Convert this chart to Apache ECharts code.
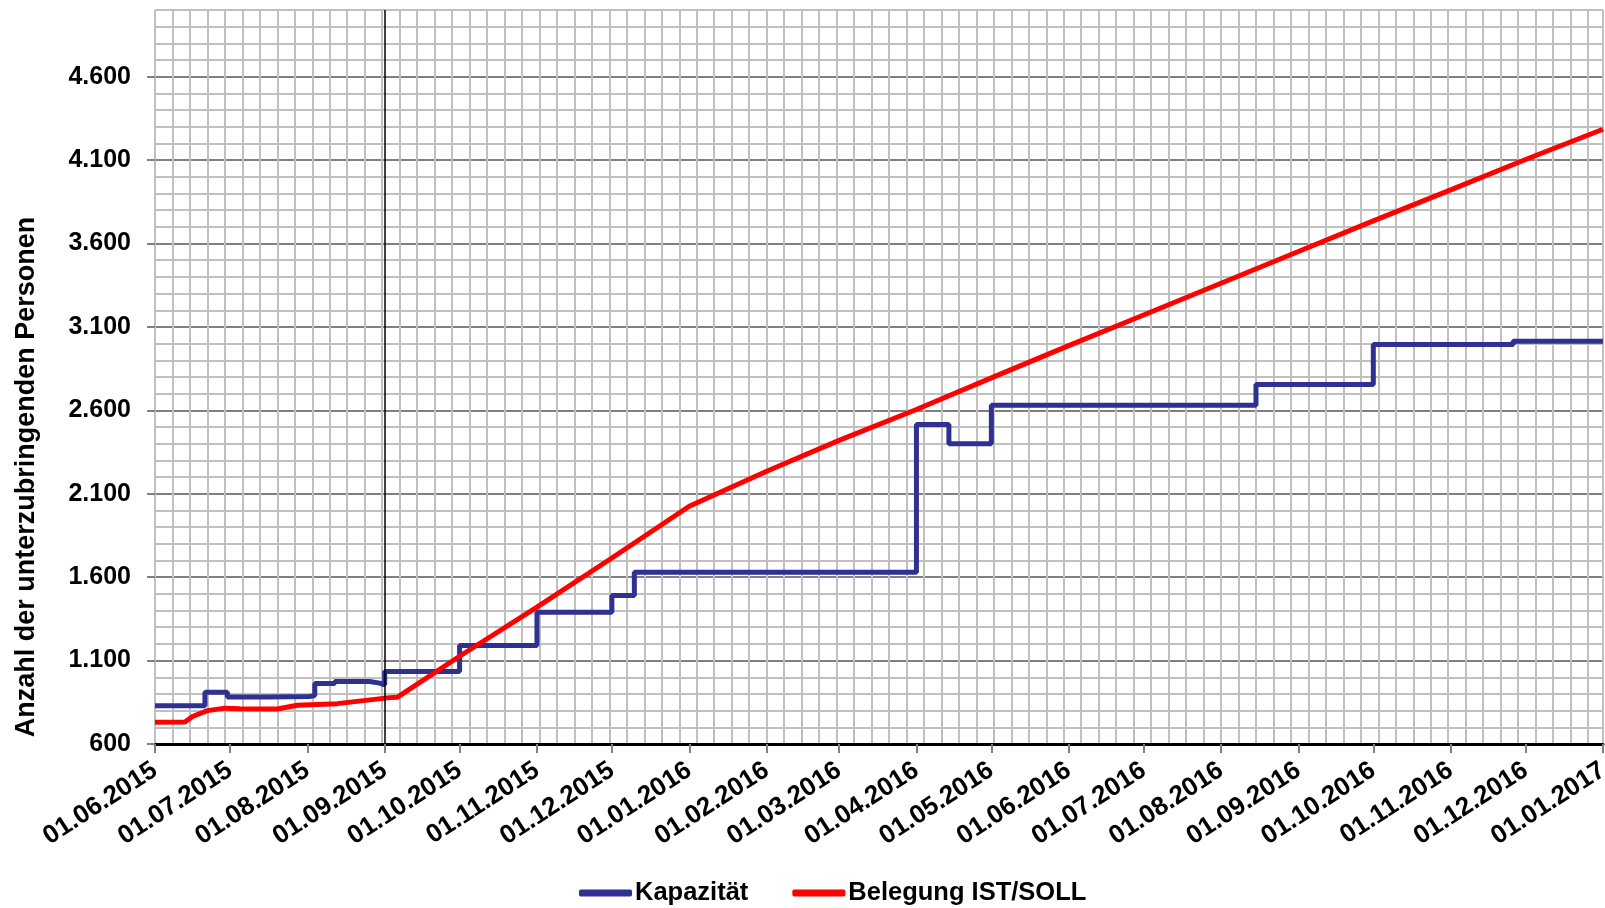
<!DOCTYPE html>
<html><head><meta charset="utf-8">
<script src="https://cdn.jsdelivr.net/npm/echarts@6/dist/echarts.min.js"></script>
<style>html,body{margin:0;padding:0;background:#fff}#c{width:1605px;height:908px}</style>
</head><body><div id="c"></div>
<script>
// ---- data ----
const monthLabels = ['01.06.2015','01.07.2015','01.08.2015','01.09.2015','01.10.2015','01.11.2015','01.12.2015',
  '01.01.2016','01.02.2016','01.03.2016','01.04.2016','01.05.2016','01.06.2016','01.07.2016','01.08.2016',
  '01.09.2016','01.10.2016','01.11.2016','01.12.2016','01.01.2017'];
const yTickValues = [600,1100,1600,2100,2600,3100,3600,4100,4600];

const kapDates = ['01.06.2015','21.06.2015','30.06.2015','16.07.2015','02.08.2015','04.08.2015','12.08.2015',
  '26.08.2015','30.08.2015','01.09.2015','01.10.2015','01.11.2015','01.12.2015','10.12.2015','01.04.2016',
  '14.04.2016','01.05.2016','15.08.2016','01.10.2016','26.11.2016','01.01.2017'];
const kapValues = [830,910,882,885,890,962,975,965,955,1035,1190,1390,1490,1630,2515,2400,2630,2755,2995,3015,3015];

const belDates = ['01.06.2015','13.06.2015','16.06.2015','22.06.2015','29.06.2015','05.07.2015','20.07.2015',
  '28.07.2015','13.08.2015','27.08.2015','03.09.2015','06.09.2015','01.10.2015','01.11.2015','01.12.2015',
  '01.01.2016','01.02.2016','01.03.2016','01.04.2016','01.05.2016','01.06.2016','01.07.2016','01.08.2016',
  '01.09.2016','01.10.2016','01.11.2016','01.12.2016','01.01.2017'];
const belValues = [730,732,765,800,815,812,810,832,842,866,878,880,1126,1420,1715,2025,2235,2420,2605,2795,
  2988,3172,3362,3552,3736,3922,4104,4285];

const startLabel = '01.06.2015';
const endLabel = '01.01.2017';
const markerLabel = '01.09.2015';

// ---- helpers ----
function parse(s){ const p = s.split('.').map(Number); return Date.UTC(p[2], p[1]-1, p[0]); }
const ORIGIN = parse(startLabel);
function toDay(s){ return Math.round((parse(s) - ORIGIN) / 864e5); }
const monthDays = monthLabels.map(toDay);
const labelByDay = {};
monthLabels.forEach((l,i)=>{ labelByDay[monthDays[i]] = l; });
function fmtNum(v){ return String(v).replace(/\B(?=(\d{3})+(?!\d))/g, '.'); }

const FONT = '"Liberation Sans", Arial, sans-serif';
const X_MAX = toDay(endLabel);
const chart = echarts.init(document.getElementById('c'), null, {renderer:'canvas'});
chart.setOption({
  animation: false,
  backgroundColor: '#fff',
  grid: { left: 155, right: 2, top: 10, bottom: 164, containLabel: false, outerBoundsMode: 'none' },
  legend: {
    left: 579, top: 880, padding: 0, itemGap: 44, itemWidth: 53, itemHeight: 7,
    icon: 'roundRect',
    textStyle: { fontFamily: FONT, fontSize: 25.5, fontWeight: 'bold', color: '#000', padding: [0,0,0,-2] },
    data: ['Kapazität', 'Belegung IST/SOLL']
  },
  xAxis: [{
    type: 'value', min: 0, max: X_MAX,
    axisLine: { show: true, onZero: false, lineStyle: { color: '#000', width: 3 } },
    axisTick: { show: true, customValues: monthDays, length: 9, lineStyle: { color: '#808080', width: 2 } },
    axisLabel: {
      show: true, customValues: monthDays, rotate: 33, margin: 24,
      fontFamily: FONT, fontSize: 26, fontWeight: 'bold', color: '#000',
      formatter: v => labelByDay[Math.round(v)] || ''
    },
    splitLine: { show: false }
  }, {
    type: 'value', min: 0, max: X_MAX, interval: 7, position: 'top',
    axisLine: { show: false }, axisTick: { show: false }, axisLabel: { show: false },
    splitLine: { show: true, lineStyle: { color: '#c0c0c0', width: 2 } }
  }],
  yAxis: [{
    type: 'value', min: 600, max: 5000,
    axisLine: { show: false },
    axisTick: { show: true, customValues: yTickValues, length: 8, lineStyle: { color: '#808080', width: 2 } },
    axisLabel: {
      show: true, customValues: yTickValues, margin: 24,
      fontFamily: FONT, fontSize: 25, fontWeight: 'bold', color: '#000',
      formatter: v => fmtNum(v)
    },
    splitLine: { show: false }
  }, {
    type: 'value', min: 600, max: 5000, interval: 100, position: 'right',
    axisLine: { show: false }, axisTick: { show: false }, axisLabel: { show: false },
    splitLine: { show: true, lineStyle: { color: ['#808080','#c0c0c0','#c0c0c0','#c0c0c0','#c0c0c0'], width: 2 } }
  }],
  graphic: [{
    type: 'text', x: 27, y: 477, rotation: Math.PI / 2, silent: true,
    style: { text: 'Anzahl der unterzubringenden Personen', font: 'bold 27px ' + FONT, fill: '#000',
      align: 'center', verticalAlign: 'middle' }
  }],
  series: [
    {
      name: 'Kapazität', type: 'line', step: 'end', symbol: 'none', showSymbol: false,
      xAxisIndex: 0, yAxisIndex: 0,
      color: '#2e3192',
      lineStyle: { color: '#2e3192', width: 5 },
      data: kapDates.map((d,i)=>[toDay(d), kapValues[i]]),
      markLine: {
        silent: true, symbol: ['none','none'], label: { show: false },
        lineStyle: { color: '#000', width: 1.5, type: 'solid' },
        emphasis: { disabled: true },
        data: [{ xAxis: toDay(markerLabel) }]
      }
    },
    {
      name: 'Belegung IST/SOLL', type: 'line', symbol: 'none', showSymbol: false,
      xAxisIndex: 0, yAxisIndex: 0,
      color: '#ff0000',
      lineStyle: { color: '#ff0000', width: 5 },
      data: belDates.map((d,i)=>[toDay(d), belValues[i]])
    }
  ]
});
</script></body></html>
